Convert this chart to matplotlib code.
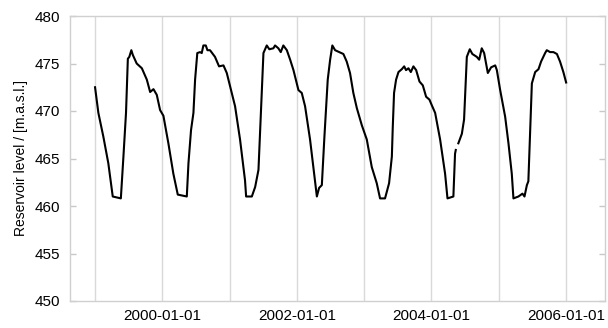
import matplotlib
matplotlib.use("Agg")
import matplotlib.pyplot as plt
import numpy as np
import pandas as pd

dates = [
    "1999-01-01", "1999-01-19", "1999-02-15", "1999-03-14", "1999-04-07", "1999-05-21",
    "1999-06-04", "1999-06-18", "1999-06-28", "1999-07-06", "1999-07-17", "1999-07-25",
    "1999-08-15", "1999-09-12", "1999-10-09", "1999-10-27", "1999-11-14", "1999-12-02",
    "1999-12-20", "2000-01-07", "2000-02-03", "2000-03-01", "2000-03-25", "2000-05-13",
    "2000-05-22", "2000-06-05", "2000-06-18", "2000-06-27", "2000-07-09", "2000-07-24",
    "2000-08-02", "2000-08-11", "2000-08-24", "2000-09-02", "2000-09-16", "2000-10-13",
    "2000-11-04", "2000-11-28", "2000-12-16", "2001-01-03", "2001-01-30", "2001-02-26",
    "2001-03-25", "2001-03-31", "2001-05-01", "2001-05-19", "2001-06-06", "2001-06-19",
    "2001-07-03", "2001-07-21", "2001-08-04", "2001-08-26", "2001-09-04", "2001-09-22",
    "2001-10-05", "2001-10-19", "2001-11-07", "2001-11-25", "2001-12-13", "2002-01-09",
    "2002-01-27", "2002-02-14", "2002-03-13", "2002-03-31", "2002-04-19", "2002-05-01",
    "2002-05-16", "2002-05-30", "2002-06-17", "2002-06-30", "2002-07-12", "2002-07-27",
    "2002-08-18", "2002-09-10", "2002-09-28", "2002-10-16", "2002-11-03", "2002-11-22",
    "2002-12-19", "2003-01-15", "2003-02-11", "2003-03-10", "2003-03-28", "2003-04-24",
    "2003-05-16", "2003-05-31", "2003-06-05", "2003-06-12", "2003-06-23", "2003-07-06",
    "2003-07-24", "2003-08-06", "2003-08-16", "2003-08-29", "2003-09-11", "2003-09-25",
    "2003-10-10", "2003-10-28", "2003-11-15", "2003-12-03", "2003-12-21", "2004-01-03",
    "2004-01-21", "2004-02-17", "2004-03-15", "2004-03-28", "2004-04-29", "2004-05-08",
    "2004-05-12", "2004-05-17", "2004-05-26", "2004-06-14", "2004-06-26", "2004-07-11",
    "2004-07-27", "2004-08-10", "2004-09-03", "2004-09-16", "2004-09-30", "2004-10-13",
    "2004-11-02", "2004-11-20", "2004-12-12", "2004-12-21", "2005-01-08", "2005-02-04",
    "2005-02-22", "2005-03-12", "2005-03-21", "2005-04-17", "2005-05-09", "2005-05-20",
    "2005-06-02", "2005-06-10", "2005-06-20", "2005-06-29", "2005-07-17", "2005-08-04",
    "2005-08-18", "2005-09-09", "2005-09-18", "2005-10-06", "2005-10-24", "2005-11-12",
    "2005-11-29", "2005-12-17", "2006-01-01",
]
level = [
    472.5, 469.8, 467.3, 464.5, 461.0, 460.8,
    465.2, 469.8, 475.5, 475.7, 476.4, 475.9,
    475.0, 474.5, 473.3, 472.0, 472.3, 471.7,
    470.1, 469.5, 466.6, 463.4, 461.2, 461.0,
    464.5, 468.0, 469.8, 473.3, 476.1, 476.2,
    476.1, 476.9, 476.9, 476.4, 476.4, 475.7,
    474.7, 474.8, 474.0, 472.6, 470.5, 467.0,
    462.7, 461.0, 461.0, 462.0, 463.8, 469.8,
    476.1, 476.9, 476.5, 476.6, 476.9, 476.6,
    476.2, 476.9, 476.4, 475.4, 474.3, 472.2,
    471.9, 470.5, 467.0, 464.1, 461.0, 461.9,
    462.2, 467.3, 473.3, 475.4, 476.9, 476.4,
    476.2, 476.0, 475.2, 474.0, 471.9, 470.3,
    468.5, 467.0, 464.1, 462.4, 460.8, 460.8,
    462.4, 465.2, 468.3, 471.9, 473.3, 474.1,
    474.4, 474.7, 474.3, 474.5, 474.1, 474.7,
    474.3, 473.1, 472.7, 471.5, 471.2, 470.6,
    469.8, 467.0, 463.4, 460.8, 461.0, 465.5,
    465.9, np.nan, 466.6, 467.6, 469.1, 475.7,
    476.5, 476.0, 475.7, 475.4, 476.6, 476.1,
    474.0, 474.6, 474.8, 474.3, 472.2, 469.4,
    466.6, 463.4, 460.8, 461.0, 461.3, 461.0,
    462.2, 462.6, 468.0, 472.9, 474.1, 474.4,
    475.2, 476.1, 476.4, 476.2, 476.2, 476.0,
    475.2, 474.1, 473.0,
]
grid_years = ["1999", "2000", "2001", "2002", "2003", "2004", "2005", "2006"]
yticks = [450, 455, 460, 465, 470, 475, 480]
ylabel = "Reservoir level / [m.a.s.l.]"

plt.rcParams["font.family"] = ["Liberation Sans", "DejaVu Sans"]

fig = plt.figure(figsize=(6.08, 3.28), dpi=100)
ax = fig.add_axes([70 / 608, 27 / 328, 535 / 608, 285 / 328])

x = pd.to_datetime(dates)
ax.plot(x, level, color="black", lw=1.5, zorder=3)

ticks = pd.to_datetime([f"{y}-01-01" for y in grid_years])
ax.set_xticks(ticks)
ax.set_xticklabels([t.strftime("%Y-%m-%d") if t.year % 2 == 0 else "" for t in ticks])
ax.set_xlim(pd.Timestamp("1998-08-18"), pd.Timestamp("2006-07-31"))
ax.set_ylim(450, 480)
ax.set_yticks(yticks)
ax.grid(axis="x", color="#d9d9d9", lw=1)
ax.tick_params(axis="x", length=0, pad=6, labelsize=11, colors="#000000")
ax.tick_params(axis="y", direction="in", length=4, width=1, color="#c8c8c8",
               left=True, right=True, pad=7, labelsize=11, labelcolor="black")
for s in ax.spines.values():
    s.set_color("#d0d0d0")
    s.set_linewidth(1)
ax.set_ylabel(ylabel, fontsize=10, labelpad=5)

fig.savefig("out.png", dpi=100)
